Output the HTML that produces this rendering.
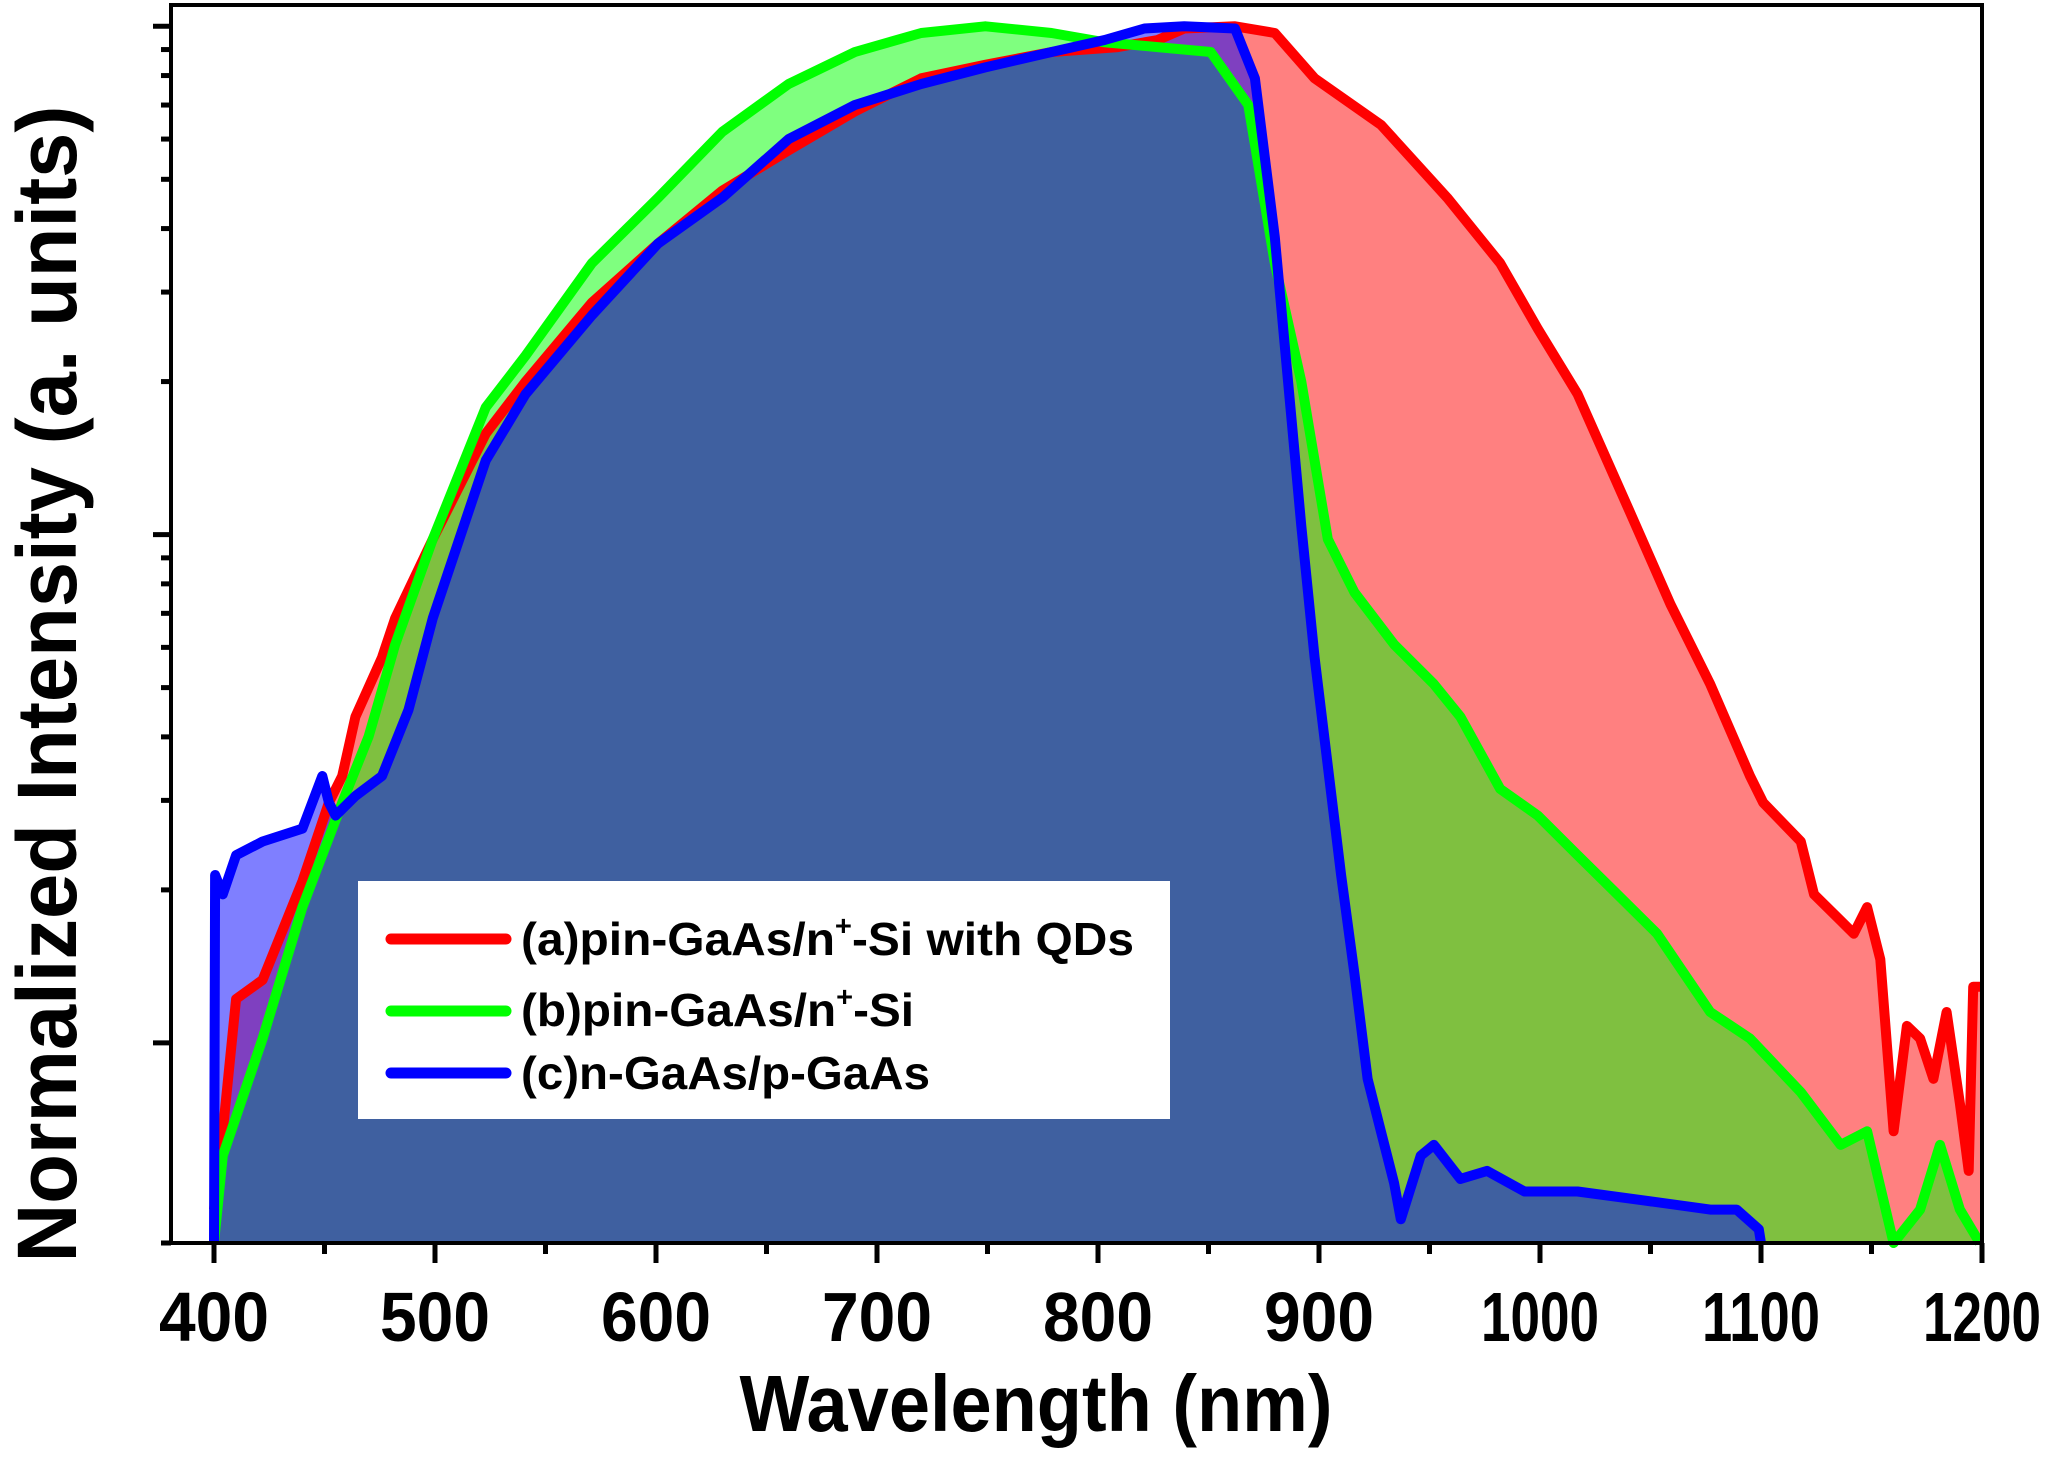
<!DOCTYPE html>
<html><head><meta charset="utf-8"><style>
html,body{margin:0;padding:0;background:#fff;}
svg{display:block;}
text{font-family:"Liberation Sans",Arial,sans-serif;font-weight:bold;fill:#000;}
</style></head><body>
<svg id="chart" width="2062" height="1462" viewBox="0 0 2062 1462" xmlns="http://www.w3.org/2000/svg">
<g id="fills"></g>
<g id="lines"></g>
<rect x="171" y="5" width="1811" height="1238" fill="none" stroke="#000" stroke-width="4"/>
<g id="ticks"></g>
<text x="1036" y="1431" font-size="80" text-anchor="middle" textLength="593" lengthAdjust="spacingAndGlyphs">Wavelength (nm)</text>
<text transform="translate(76,684) rotate(-90)" x="0" y="0" font-size="84" text-anchor="middle" textLength="1157" lengthAdjust="spacingAndGlyphs">Normalized Intensity (a. units)</text>
<g>
<rect x="358" y="881" width="812" height="238" fill="#fff"/>
<line x1="391" y1="939" x2="506" y2="939" stroke="#ff0000" stroke-width="11" stroke-linecap="round"/>
<line x1="391" y1="1011" x2="506" y2="1011" stroke="#00ff00" stroke-width="11" stroke-linecap="round"/>
<line x1="391" y1="1073" x2="506" y2="1073" stroke="#0000ff" stroke-width="11" stroke-linecap="round"/>
<text x="521" y="955" font-size="46" textLength="613" lengthAdjust="spacingAndGlyphs">(a)pin-GaAs/n<tspan font-size="28" dy="-20">+</tspan><tspan dy="20">-Si with QDs</tspan></text>
<text x="521" y="1026" font-size="46" textLength="393" lengthAdjust="spacingAndGlyphs">(b)pin-GaAs/n<tspan font-size="28" dy="-20">+</tspan><tspan dy="20">-Si</tspan></text>
<text x="521" y="1089" font-size="46" textLength="409" lengthAdjust="spacingAndGlyphs">(c)n-GaAs/p-GaAs</text>
</g>
</svg>
<script>
const xTicks = [400,500,600,700,800,900,1000,1100,1200];
const xTickLabels = ["400","500","600","700","800","900","1000","1100","1200"];
const redNm = [400,404,410,422,440,452,458,464,476,482,499,523,541,571,601,630,660,690,720,749,779,809,827,839,862,880,898,928,958,982,999,1017,1041,1059,1077,1095,1101,1118,1124,1136,1142,1148,1154,1160,1166,1172,1178,1184,1190,1194,1196,1200];
const redVal = [0.0047,0.0067,0.0122,0.0133,0.0208,0.0297,0.0335,0.0438,0.0573,0.0685,0.098,0.158,0.2,0.286,0.374,0.475,0.57,0.68,0.79,0.84,0.89,0.91,0.94,0.99,1.0,0.97,0.79,0.64,0.46,0.342,0.254,0.189,0.11,0.073,0.0508,0.0335,0.0297,0.0249,0.0196,0.0174,0.0164,0.0185,0.0146,0.0067,0.0108,0.0102,0.0085,0.0115,0.0076,0.0056,0.0129,0.0129];
const greenNm = [400,404,422,440,458,470,482,499,523,541,571,601,630,660,690,720,749,779,803,827,851,868,880,892,904,916,934,952,964,982,999,1017,1035,1053,1077,1095,1118,1136,1148,1160,1172,1181,1190,1199];
const greenVal = [0.00404,0.006,0.0102,0.0185,0.0297,0.0401,0.0608,0.098,0.178,0.225,0.342,0.46,0.62,0.77,0.89,0.97,1.0,0.97,0.93,0.91,0.89,0.70,0.342,0.2,0.098,0.077,0.0608,0.0508,0.0438,0.0316,0.028,0.0234,0.0196,0.0164,0.0115,0.0102,0.008,0.0063,0.0067,0.00404,0.0047,0.0063,0.0047,0.00404];
const blueNm = [400,400.5,404,410,422,440,449,452,455,464,476,488,499,511,523,541,571,601,630,660,690,720,749,779,803,821,839,862,871,880,892,898,910,916,922,928,934,937,946,952,964,976,993,1017,1047,1077,1089,1099,1100];
const blueVal = [0.00404,0.0214,0.0196,0.0234,0.0249,0.0264,0.0335,0.0297,0.028,0.0306,0.0335,0.0452,0.0685,0.098,0.14,0.189,0.27,0.374,0.46,0.60,0.70,0.77,0.83,0.89,0.94,0.99,1.0,0.99,0.79,0.385,0.104,0.0573,0.0214,0.0137,0.0085,0.0067,0.0053,0.0045,0.006,0.0063,0.0054,0.0056,0.0051,0.0051,0.0049,0.0047,0.0047,0.0043,0.00404];

const NS = "http://www.w3.org/2000/svg";
const X0 = 214, XPER = 221, YTOP = 26.3, YDEC = 508.3, YBOT = 1243;
function xs(nm){ return X0 + (nm - 400) / 100 * XPER; }
function ys(v){ return Math.min(YBOT, YTOP - Math.log10(v) * YDEC); }

function linePts(nm, val){ return nm.map((n,i)=>xs(n).toFixed(1)+","+ys(val[i]).toFixed(1)).join(" "); }
function areaPts(nm, val){ return xs(nm[0]).toFixed(1)+","+YBOT+" "+linePts(nm,val)+" "+xs(nm[nm.length-1]).toFixed(1)+","+YBOT; }

const fills = document.getElementById("fills");
const lines = document.getElementById("lines");
const series = [
  {nm:redNm, val:redVal, fill:"#ff8080", op:1, stroke:"#ff0000", name:"a"},
  {nm:greenNm, val:greenVal, fill:"#00ff00", op:0.5, stroke:"#00ff00", name:"b"},
  {nm:blueNm, val:blueVal, fill:"#0000ff", op:0.5, stroke:"#0000ff", name:"c"}
];
series.forEach(s=>{
  const p = document.createElementNS(NS,"polygon");
  p.setAttribute("points", areaPts(s.nm, s.val));
  p.setAttribute("fill", s.fill);
  p.setAttribute("fill-opacity", s.op);
  
  
  fills.appendChild(p);
});
series.forEach(s=>{
  const l = document.createElementNS(NS,"polyline");
  l.setAttribute("points", linePts(s.nm, s.val));
  l.setAttribute("fill", "none");
  l.setAttribute("stroke", s.stroke);
  l.setAttribute("stroke-width", "10");
  l.setAttribute("stroke-linejoin", "round");
  
  
  lines.appendChild(l);
});

const ticks = document.getElementById("ticks");
function mk(tag, attrs){ const e = document.createElementNS(NS, tag); for (const k in attrs) e.setAttribute(k, attrs[k]); return e; }
xTicks.forEach((t,i)=>{
  const ln = mk("line",{x1:xs(t),x2:xs(t),y1:YBOT,y2:YBOT+20,stroke:"#000","stroke-width":5});
  
  
  ticks.appendChild(ln);
  if (i < xTicks.length-1) {
    const m = mk("line",{x1:xs(t+50),x2:xs(t+50),y1:YBOT,y2:YBOT+11,stroke:"#000","stroke-width":5});
    
    
    ticks.appendChild(m);
  }
  const tx = mk("text",{x:xs(t),y:1341,"font-size":70,"text-anchor":"middle",textLength:xTickLabels[i].length>3?118:110,lengthAdjust:"spacingAndGlyphs"});
  tx.textContent = xTickLabels[i];
  
  
  ticks.appendChild(tx);
});
[0.01,0.1,1].forEach(d=>{
  for (let k=1;k<=9;k++){
    const v = d*k; const y = ys(v);
    if (y < 5 || y > YBOT) continue;
    const major = k===1;
    const ln = mk("line",{x1:171,x2:major?153:161,y1:y,y2:y,stroke:"#000","stroke-width":5});
    
    
    ticks.appendChild(ln);
  }
});
const lt = mk("line",{x1:171,x2:161,y1:YBOT,y2:YBOT,stroke:"#000","stroke-width":5});


ticks.appendChild(lt);
</script>
</body></html>
